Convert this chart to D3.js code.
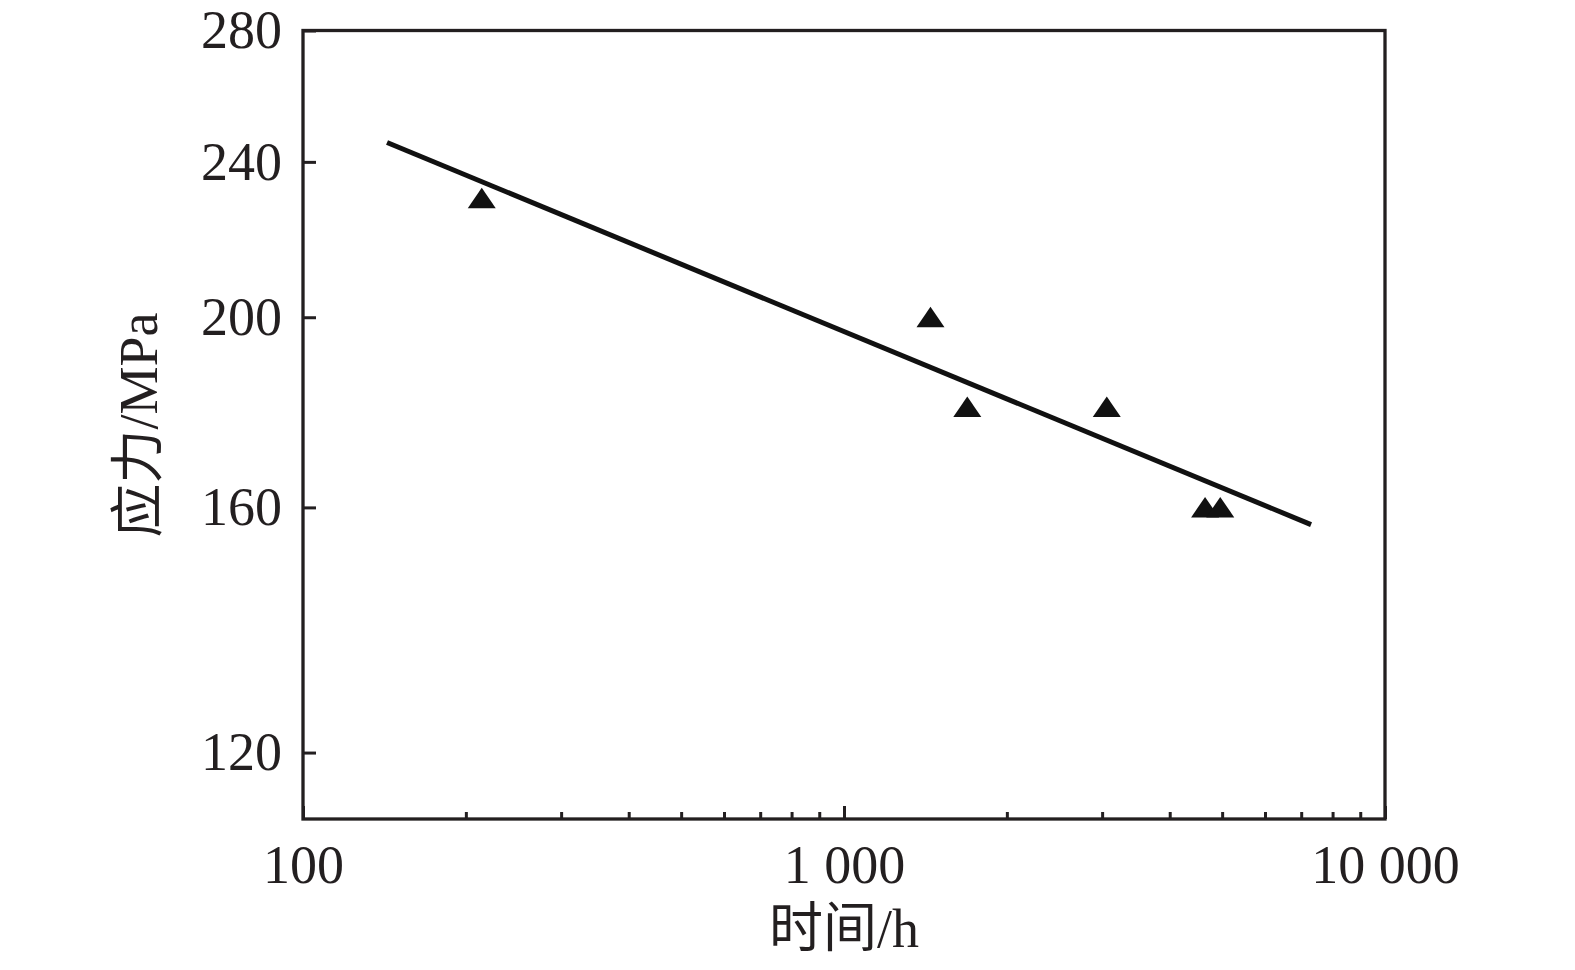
<!DOCTYPE html>
<html>
<head>
<meta charset="utf-8">
<script src="https://cdn.jsdelivr.net/npm/d3@7"></script>
<style>
  html, body { margin: 0; padding: 0; background: #fff; }
  svg { display: block; }
  text { font-family: "Liberation Serif", "Times New Roman", "Noto Sans CJK SC", serif; fill: #231f20; }
</style>
</head>
<body>
<svg id="chart" width="1575" height="970"></svg>
<script>
// measured points (time h, stress MPa)
const times = [214, 1445, 1690, 3060, 4650, 4960];
const stresses = [230, 200, 180, 180, 160, 160];

// fitted line end points
const fitTimes = [143, 7300];
const fitStresses = [245.5, 156.8];

const xMajor = [100, 1000, 10000];
const xMinor = [200, 300, 400, 500, 600, 700, 800, 900, 2000, 3000, 4000, 5000, 6000, 7000, 8000, 9000];
const yTicks = [120, 160, 200, 240, 280];

const xTitle = "时间/h";
const yTitle = "应力/MPa";

const ink = "#231f20";
const margin = { left: 303, top: 30.5, right: 190, bottom: 151 };
const width = 1575 - margin.left - margin.right;
const height = 970 - margin.top - margin.bottom;

const svg = d3.select("#chart");
const g = svg.append("g").attr("transform", `translate(${margin.left},${margin.top})`);

const x = d3.scaleLog().domain([100, 10000]).range([0, width]);
const y = d3.scaleLog().domain([111, 280]).range([height, 0]);

const fmt = d => d3.format(",")(d).replace(/,/g, " ");

// minor x ticks
const xMinorAxis = g.append("g")
    .attr("transform", `translate(0,${height})`)
    .call(d3.axisBottom(x).tickValues(xMinor).tickSize(-7).tickFormat(""));

// major x ticks with labels
const xAxis = g.append("g")
    .attr("transform", `translate(0,${height})`)
    .call(d3.axisBottom(x).tickValues(xMajor).tickSize(-13).tickPadding(26).tickFormat(fmt));

const yAxis = g.append("g")
    .call(d3.axisLeft(y).tickValues(yTicks).tickSize(-13).tickPadding(21).tickFormat(d3.format("d")));

[xMinorAxis, xAxis, yAxis].forEach(a => {
  a.select(".domain").remove();
  a.selectAll(".tick line").attr("stroke", ink).attr("stroke-width", 3);
  a.selectAll(".tick text").attr("font-size", 54).attr("fill", ink);
});

// frame
g.append("rect")
    .attr("width", width)
    .attr("height", height)
    .attr("fill", "none")
    .attr("stroke", ink)
    .attr("stroke-width", 3.3);

// fit line
const line = d3.line().x(d => x(d[0])).y(d => y(d[1]));
g.append("path")
    .datum(d3.zip(fitTimes, fitStresses))
    .attr("d", line)
    .attr("fill", "none")
    .attr("stroke", "#111")
    .attr("stroke-width", 5);

// triangle markers
g.selectAll("path.pt")
    .data(d3.zip(times, stresses))
    .join("path")
    .attr("class", "pt")
    .attr("d", "M0,-10.5L14,10L-14,10Z")
    .attr("transform", d => `translate(${x(d[0])},${y(d[1])})`)
    .attr("fill", "#111");

// axis titles
svg.append("text")
    .attr("x", margin.left + x(1000))
    .attr("y", 947)
    .attr("text-anchor", "middle")
    .attr("font-size", 54)
    .text(xTitle);

svg.append("text")
    .attr("transform", "translate(157,425) rotate(-90)")
    .attr("text-anchor", "middle")
    .attr("font-size", 54)
    .text(yTitle);
</script>
</body>
</html>
